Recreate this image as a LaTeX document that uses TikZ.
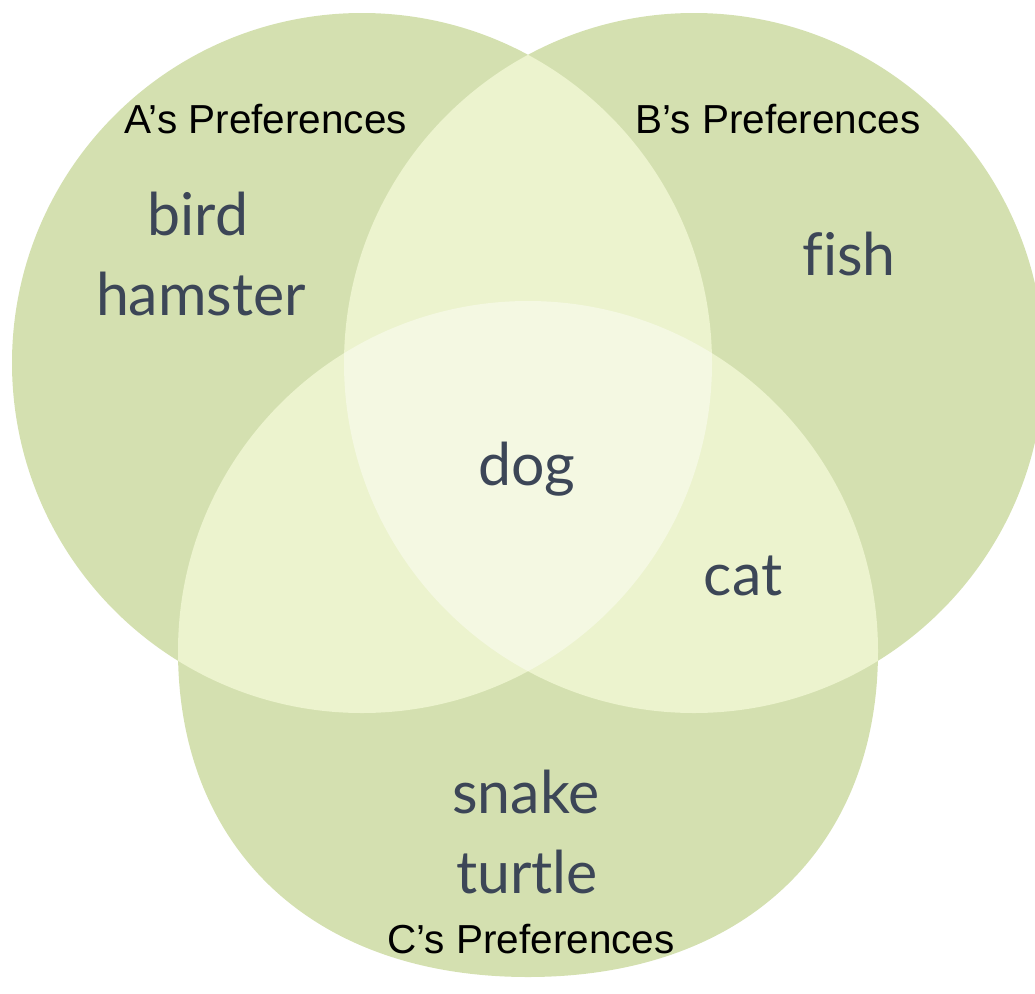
\documentclass[tikz,border=0pt]{standalone}
\usepackage{xcolor}
\usepackage{fontspec}
\usepackage{tikz}
\setmainfont{Liberation Sans}
\newfontfamily\petfont[Ligatures=NoCommon]{Lato}
\definecolor{vennbase}{HTML}{D4E0B0}
\definecolor{vennpair}{HTML}{ECF3CE}
\definecolor{venntriple}{HTML}{F4F8E2}
\definecolor{petink}{HTML}{3C4657}
\tikzset{
  owner/.style={anchor=base,font=\fontsize{40.5}{41}\selectfont,text=black,inner sep=0pt},
  pet/.style={anchor=base,font=\petfont\fontsize{59}{61}\selectfont,text=petink,inner sep=0pt}
}

\begin{document}
\begin{tikzpicture}[x=1pt,y=-1pt]
\clip (0,0) rectangle (1035,993);
%圆
\fill[vennbase] (362,363) circle (350);
\fill[vennbase] (694,363) circle (350);
\fill[vennbase] (178,651) arc[start angle=180,end angle=360,radius=350]
  .. controls (878,847) and (745,977) .. (528,977)
  .. controls (311,977) and (178,847) .. cycle;
%两两相交
\begin{scope}
\clip (362,363) circle (350);
\fill[vennpair] (694,363) circle (350);
\fill[vennpair] (528,651) circle (350);
\end{scope}
\begin{scope}
\clip (694,363) circle (350);
\fill[vennpair] (528,651) circle (350);
\end{scope}
%三者相交
\begin{scope}
\clip (362,363) circle (350);
\clip (694,363) circle (350);
\fill[venntriple] (528,651) circle (350);
\end{scope}
%Text
\draw (266,133) node[owner] (prefA) {A’s Preferences};
\draw (778,133) node[owner] (prefB) {B’s Preferences};
\draw (531,953) node[owner] (prefC) {C’s Preferences};
\draw (198,235) node[pet] (bird) {bird};
\draw (201,315) node[pet] (hamster) {hamster};
\draw (849,275) node[pet] (fish) {fish};
\draw (527,485) node[pet] (dog) {dog};
\draw (743,595) node[pet] (cat) {cat};
\draw (526,813) node[pet] (snake) {snake};
\draw (527,893) node[pet] (turtle) {turtle};
\end{tikzpicture}
\end{document}
